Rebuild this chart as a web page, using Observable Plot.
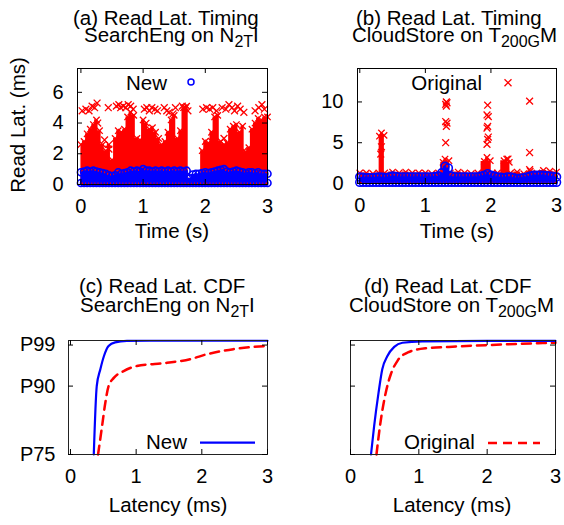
<!DOCTYPE html>
<html><head><meta charset="utf-8">
<script src="https://cdn.jsdelivr.net/npm/d3@7"></script>
<script src="https://cdn.jsdelivr.net/npm/@observablehq/plot@0.6"></script>
<style>
body{margin:0;background:#fff;}
#root{position:relative;width:564px;height:525px;overflow:hidden;font-family:"Liberation Sans",Arial,Helvetica,sans-serif;}
.panel{position:absolute;}
#overlay{position:absolute;left:0;top:0;}
</style></head><body><div id="root"></div>
<script>
// ---------- tick values ----------
const timeTicks = [0, 1, 2, 3];
const latTicksA = [0, 2, 4, 6];
const latTicksB = [0, 5, 10];
const cdfTicks = [75, 90, 99];
const cdfTickLabels = {75: "P75", 90: "P90", 99: "P99"};
const latTicksCDF = [0, 1, 2, 3];

// ---------- (a) SearchEng timing ----------
const aRedTime = [0.00,0.05,0.10,0.15,0.20,0.25,0.30,0.35,0.40,0.45,0.50,0.55,0.60,0.65,0.70,0.75,0.80,0.85,0.90,0.95,
  1.00,1.05,1.10,1.15,1.20,1.25,1.30,1.35,1.40,1.45,1.50,1.55,1.60,1.65,1.70,1.75,1.80,1.85,1.90,1.95,
  2.00,2.05,2.10,2.15,2.20,2.25,2.30,2.35,2.40,2.45,2.50,2.55,2.60,2.65,2.70,2.75,2.80,2.85,2.90,2.95,3.00];
const aRedTop = [2.6,2.8,3.3,3.6,3.9,4.2,3.5,2.6,2.2,2.6,1.6,3.0,3.5,3.4,3.6,4.4,4.7,4.5,3.0,2.9,
  4.2,4.0,3.6,3.7,3.4,3.0,2.6,2.8,3.4,4.2,4.5,3.0,3.5,5.0,5.1,0.4,0.3,0.3,0.4,2.2,
  2.8,2.7,3.4,4.4,4.5,2.8,2.6,2.7,3.6,3.8,3.9,3.4,3.8,2.1,2.4,3.6,4.0,4.3,4.2,4.4,4.4];
const aOutTime = [0.02,0.08,0.13,0.18,0.22,0.26,0.44,0.57,0.61,0.64,0.68,0.72,0.76,0.80,0.84,1.02,1.06,1.10,1.14,1.19,1.23,
  1.34,1.38,1.42,1.48,1.52,1.63,1.68,1.72,1.96,2.02,2.07,2.12,2.18,2.27,2.33,2.38,2.43,2.47,2.52,2.56,2.62,2.80,2.86,2.91,2.95,
  0.27,0.45,0.92,2.10,2.30,2.62,0.38];
const aOutLat = [4.8,4.9,4.8,5.1,5.0,5.3,5.0,5.1,5.2,5.0,5.1,5.0,5.2,5.1,4.9,4.9,5.0,4.8,5.0,4.9,4.8,
  5.0,4.8,4.7,4.6,5.0,5.1,5.0,4.8,4.9,5.0,4.9,5.0,4.8,5.0,4.9,5.2,5.0,4.8,5.1,4.9,4.7,4.8,5.0,5.2,4.9,
  4.0,2.3,2.6,2.8,3.0,2.2,2.9];
const aBlueTime = [0.00,0.05,0.10,0.15,0.20,0.25,0.30,0.35,0.40,0.45,0.50,0.55,0.60,0.65,0.70,0.75,0.80,0.85,0.90,0.95,
  1.00,1.05,1.10,1.15,1.20,1.25,1.30,1.35,1.40,1.45,1.50,1.55,1.60,1.65,1.70,1.75,1.80,1.85,1.90,1.95,
  2.00,2.05,2.10,2.15,2.20,2.25,2.30,2.35,2.40,2.45,2.50,2.55,2.60,2.65,2.70,2.75,2.80,2.85,2.90,2.95,3.00];
const aBlueTop = [0.8,0.85,0.9,0.85,0.9,0.85,0.8,0.75,0.7,0.6,0.55,0.6,0.8,0.7,0.75,0.8,0.9,0.85,0.9,0.85,
  1.0,0.9,0.9,0.85,0.9,0.85,0.9,0.85,0.9,0.85,0.9,0.85,0.9,0.85,0.9,0.4,0.65,0.7,0.7,0.75,
  0.8,0.75,0.8,0.85,0.9,0.95,1.0,0.85,0.8,0.85,0.9,0.85,0.8,0.75,0.8,0.8,0.75,0.8,0.7,0.7,0.7];
const aBlueLow = [0.1,0.1,0.1,0.1,0.1,0.1,0.1,0.1,0.1,0.1,0.1,0.1,0.1,0.1,0.1,0.1,0.1,0.1,0.1,0.1,
  0.1,0.1,0.1,0.1,0.1,0.1,0.1,0.1,0.1,0.1,0.1,0.1,0.1,0.1,0.1,0.1,0.1,0.1,0.1,0.1,
  0.1,0.1,0.1,0.1,0.1,0.1,0.1,0.1,0.1,0.1,0.1,0.1,0.1,0.1,0.1,0.1,0.1,0.1,0.1,0.1,0.1];

// ---------- (b) CloudStore timing ----------
const bRedTime = [0.0,0.1,0.2,0.29,0.30,0.33,0.37,0.38,0.5,0.6,0.7,0.8,0.9,1.0,1.1,1.2,1.27,1.30,1.36,1.38,
  1.5,1.6,1.7,1.8,1.90,1.94,1.99,2.02,2.1,2.20,2.24,2.28,2.30,2.4,2.5,2.6,2.7,2.8,2.9,3.0];
const bRedTop = [1.3,1.3,1.2,1.3,5.8,6.2,5.9,1.3,1.4,1.3,1.4,1.3,1.3,1.3,1.2,1.3,2.6,3.0,2.8,1.3,
  1.4,1.3,1.2,1.3,2.7,3.2,2.8,1.3,1.3,2.8,3.0,2.6,1.3,1.4,1.2,1.5,1.3,1.6,1.5,1.4];
const bOutTime = [1.32,1.31,1.33,1.32,1.31,1.33,1.32,1.31,1.95,1.94,1.96,1.95,1.94,1.96,1.95,1.94,2.59,2.59,2.59,0.33,0.32,2.26];
const bOutLat = [10.0,9.7,9.9,9.5,7.6,7.4,7.0,5.0,9.6,8.4,8.2,7.0,6.8,5.7,5.4,4.8,10.1,3.8,1.7,4.5,3.6,3.0];
const bBlueTime = [0.00,0.05,0.10,0.15,0.20,0.25,0.30,0.35,0.40,0.45,0.50,0.55,0.60,0.65,0.70,0.75,0.80,0.85,0.90,0.95,
  1.00,1.05,1.10,1.15,1.20,1.25,1.30,1.35,1.40,1.45,1.50,1.55,1.60,1.65,1.70,1.75,1.80,1.85,1.90,1.95,
  2.00,2.05,2.10,2.15,2.20,2.25,2.30,2.35,2.40,2.45,2.50,2.55,2.60,2.65,2.70,2.75,2.80,2.85,2.90,2.95,3.00];
const bBlueTop = [0.8,0.75,0.7,0.7,0.7,0.75,0.8,0.75,0.7,0.8,0.9,0.85,0.8,0.8,0.8,0.8,0.8,0.8,0.8,0.8,
  0.8,0.8,0.8,0.85,0.9,1.3,2.1,1.9,0.9,0.8,0.8,0.8,0.8,0.8,0.8,0.8,0.8,0.9,1.0,1.2,
  1.0,0.9,0.8,0.75,0.7,0.8,0.8,0.7,0.6,0.65,0.7,0.8,0.9,1.0,1.0,1.0,1.0,0.95,0.9,0.85,0.8];
const bBlueLow = [0.15,0.15,0.15,0.15,0.15,0.15,0.15,0.15,0.15,0.15,0.15,0.15,0.15,0.15,0.15,0.15,0.15,0.15,0.15,0.15,
  0.15,0.15,0.15,0.15,0.15,0.15,0.15,0.15,0.15,0.15,0.15,0.15,0.15,0.15,0.15,0.15,0.15,0.15,0.15,0.15,
  0.15,0.15,0.15,0.15,0.15,0.15,0.15,0.15,0.15,0.15,0.15,0.15,0.15,0.15,0.15,0.15,0.15,0.15,0.15,0.15,0.15];

// ---------- (c) SearchEng CDF ----------
const cNewLat = [0.355,0.40,0.455,0.51,0.58,0.68,0.86,1.2,2.0,3.0];
const cNewPct = [75,90,93.7,96.6,98.8,99.6,99.9,99.95,99.95,99.95];
const cOrigLat = [0.42,0.48,0.53,0.58,0.66,0.81,1.01,1.47,1.82,2.08,2.48,2.99];
const cOrigPct = [75,81.1,86.3,90.0,91.8,93.3,94.4,95.1,95.9,97.0,98.1,98.8];

// ---------- (d) CloudStore CDF ----------
const dNewLat = [0.30,0.345,0.41,0.465,0.54,0.64,0.76,1.05,2.0,3.0];
const dNewPct = [75,81.1,88.5,93.7,96.6,98.6,99.5,99.8,99.9,99.9];
const dOrigLat = [0.38,0.43,0.515,0.59,0.69,0.84,1.1,1.44,2.02,2.75,3.0];
const dOrigPct = [75,81.1,88.5,92.6,95.6,97.4,98.3,98.6,99.0,99.4,99.5];

// ---------- helpers ----------
const RED = "#ff0000", BLUE = "#0000ff";
const FONT = '"Liberation Sans", Arial, Helvetica, sans-serif';
const rows = (xs, ys, lows) => xs.map((x, i) => ({x, y: ys[i], y0: lows ? lows[i] : 0}));
const intFmt = d => String(d);

function tickMarks(xt, yt, fw, fh, len = 5) {
  return [
    Plot.tickX(xt, {x: d => d, insetTop: fh - len, stroke: "black"}),
    Plot.tickX(xt, {x: d => d, insetBottom: fh - len, stroke: "black"}),
    Plot.tickY(yt, {y: d => d, insetRight: fw - len, stroke: "black"}),
    Plot.tickY(yt, {y: d => d, insetLeft: fw - len, stroke: "black"})
  ];
}

function place(svg, left, top) {
  const d = document.createElement("div");
  d.className = "panel";
  d.style.left = left + "px";
  d.style.top = top + "px";
  d.appendChild(svg);
  document.getElementById("root").appendChild(d);
}

const style = {fontFamily: FONT, fontSize: "20px", color: "black", background: "transparent", overflow: "visible"};

// ---------- panel (a) ----------
{
  const W = 282, H = 160, mL = 77, mR = 15, mT = 8, mB = 36;
  const red = rows(aRedTime, aRedTop);
  const blue = rows(aBlueTime, aBlueTop, aBlueLow);
  const out = rows(aOutTime, aOutLat);
  place(Plot.plot({
    width: W, height: H, marginLeft: mL, marginRight: mR, marginTop: mT, marginBottom: mB,
    style,
    x: {domain: [-0.055, 3], ticks: timeTicks, tickFormat: intFmt, tickSize: 0, tickPadding: 14, label: null},
    y: {domain: [0, 7.55], ticks: latTicksA, tickFormat: intFmt, tickSize: 0, tickPadding: 14, label: null},
    marks: [
      Plot.areaY(red, {x: "x", y: "y", curve: "step", fill: RED}),
      Plot.dot(red.filter(d => d.y > 1), {x: "x", y: "y", symbol: "times", r: 3, stroke: RED, strokeWidth: 1.3}),
      Plot.dot(out, {x: "x", y: "y", symbol: "times", r: 3.2, stroke: RED, strokeWidth: 1.3}),
      Plot.areaY(blue, {x: "x", y1: "y0", y2: "y", curve: "step", fill: BLUE}),
      Plot.dot(blue, {x: "x", y: "y", r: 3.5, stroke: BLUE, strokeWidth: 1.6}),
      Plot.dot(blue, {x: "x", y: "y0", r: 3.5, stroke: BLUE, strokeWidth: 1.6}),
      Plot.frame({stroke: "black"}),
      ...tickMarks(timeTicks, latTicksA, W - mL - mR, H - mT - mB)
    ]
  }), 0, 60);
}

// ---------- panel (b) ----------
{
  const W = 282, H = 160, mL = 75, mR = 8, mT = 8, mB = 37;
  const red = rows(bRedTime, bRedTop);
  const blue = rows(bBlueTime, bBlueTop, bBlueLow);
  const out = rows(bOutTime, bOutLat);
  place(Plot.plot({
    width: W, height: H, marginLeft: mL, marginRight: mR, marginTop: mT, marginBottom: mB,
    style,
    x: {domain: [-0.035, 3], ticks: timeTicks, tickFormat: intFmt, tickSize: 0, tickPadding: 14, label: null},
    y: {domain: [0, 14.1], ticks: latTicksB, tickFormat: intFmt, tickSize: 0, tickPadding: 14, label: null},
    marks: [
      Plot.areaY(red, {x: "x", y: "y", curve: "step", fill: RED}),
      Plot.dot(red, {x: "x", y: "y", symbol: "times", r: 3, stroke: RED, strokeWidth: 1.3}),
      Plot.dot(out, {x: "x", y: "y", symbol: "times", r: 3.2, stroke: RED, strokeWidth: 1.3}),
      Plot.areaY(blue, {x: "x", y1: "y0", y2: "y", curve: "step", fill: BLUE}),
      Plot.dot(blue, {x: "x", y: "y", r: 4, stroke: BLUE, strokeWidth: 1.6}),
      Plot.dot(blue, {x: "x", y: "y0", r: 4, stroke: BLUE, strokeWidth: 1.6}),
      Plot.frame({stroke: "black"}),
      ...tickMarks(timeTicks, latTicksB, W - mL - mR, H - mT - mB)
    ]
  }), 282, 60);
}

// ---------- panel (c) ----------
{
  const W = 282, H = 155, mL = 68, mR = 15, mT = 10, mB = 31;
  place(Plot.plot({
    width: W, height: H, marginLeft: mL, marginRight: mR, marginTop: mT, marginBottom: mB,
    style,
    x: {domain: [-0.03, 3], ticks: latTicksCDF, tickFormat: intFmt, tickSize: 0, tickPadding: 14, label: null},
    y: {domain: [75, 100], ticks: cdfTicks, tickFormat: d => cdfTickLabels[d], tickSize: 0, tickPadding: 13, label: null},
    marks: [
      Plot.line(rows(cOrigLat, cOrigPct), {x: "x", y: "y", stroke: RED, strokeWidth: 2.5, strokeDasharray: "9,6", curve: "monotone-x"}),
      Plot.line(rows(cNewLat, cNewPct), {x: "x", y: "y", stroke: BLUE, strokeWidth: 2.2, curve: "monotone-x"}),
      Plot.frame({stroke: "#222"}),
      ...tickMarks(latTicksCDF, cdfTicks, W - mL - mR, H - mT - mB)
    ]
  }), 0, 330);
}

// ---------- panel (d) ----------
{
  const W = 282, H = 155, mL = 68, mR = 9, mT = 10, mB = 31;
  place(Plot.plot({
    width: W, height: H, marginLeft: mL, marginRight: mR, marginTop: mT, marginBottom: mB,
    style,
    x: {domain: [0, 3], ticks: latTicksCDF, tickFormat: intFmt, tickSize: 0, tickPadding: 14, label: null},
    y: {domain: [75, 100], ticks: cdfTicks, tickFormat: () => "", tickSize: 0, tickPadding: 13, label: null},
    marks: [
      Plot.line(rows(dOrigLat, dOrigPct), {x: "x", y: "y", stroke: RED, strokeWidth: 2.5, strokeDasharray: "9,6", curve: "monotone-x"}),
      Plot.line(rows(dNewLat, dNewPct), {x: "x", y: "y", stroke: BLUE, strokeWidth: 2.2, curve: "monotone-x"}),
      Plot.frame({stroke: "#222"}),
      ...tickMarks(latTicksCDF, cdfTicks, W - mL - mR, H - mT - mB)
    ]
  }), 282, 330);
}

// ---------- titles, axis labels, legends (overlay) ----------
const overlay = `
<svg id="overlay" width="564" height="525" xmlns="http://www.w3.org/2000/svg" font-family='${FONT}' font-size="20.5" fill="black">
  <text x="73" y="25">(a) Read Lat. Timing</text>
  <text x="84" y="42">SearchEng on N<tspan font-size="16" dy="5">2T</tspan><tspan dy="-5">I</tspan></text>
  <text x="356" y="25">(b) Read Lat. Timing</text>
  <text x="352" y="42">CloudStore on T<tspan font-size="16" dy="5">200G</tspan><tspan dy="-5">M</tspan></text>
  <text x="79" y="293">(c) Read Lat. CDF</text>
  <text x="80" y="312">SearchEng on N<tspan font-size="16" dy="5">2T</tspan><tspan dy="-5">I</tspan></text>
  <text x="364" y="293">(d) Read Lat. CDF</text>
  <text x="349" y="312">CloudStore on T<tspan font-size="16" dy="5">200G</tspan><tspan dy="-5">M</tspan></text>

  <text transform="translate(24.5,125) rotate(-90)" text-anchor="middle">Read Lat. (ms)</text>
  <text x="172" y="238" text-anchor="middle">Time (s)</text>
  <text x="457" y="238" text-anchor="middle">Time (s)</text>
  <text x="168" y="512" text-anchor="middle">Latency (ms)</text>
  <text x="452" y="512" text-anchor="middle">Latency (ms)</text>

  <text x="167" y="90" text-anchor="end">New</text>
  <circle cx="191" cy="82" r="3" fill="none" stroke="${BLUE}" stroke-width="1.5"/>
  <text x="482" y="90" text-anchor="end">Original</text>
  <path d="M504.5,79.2L511.5,86.2M504.5,86.2L511.5,79.2" stroke="${RED}" stroke-width="1.3"/>
  <text x="187" y="449" text-anchor="end">New</text>
  <line x1="200" y1="442.7" x2="255" y2="442.7" stroke="${BLUE}" stroke-width="2.2"/>
  <text x="474.7" y="449" text-anchor="end">Original</text>
  <line x1="488" y1="443" x2="540" y2="443" stroke="${RED}" stroke-width="2.5" stroke-dasharray="9,6"/>
</svg>`;
document.getElementById("root").insertAdjacentHTML("beforeend", overlay);
</script>
</body></html>
